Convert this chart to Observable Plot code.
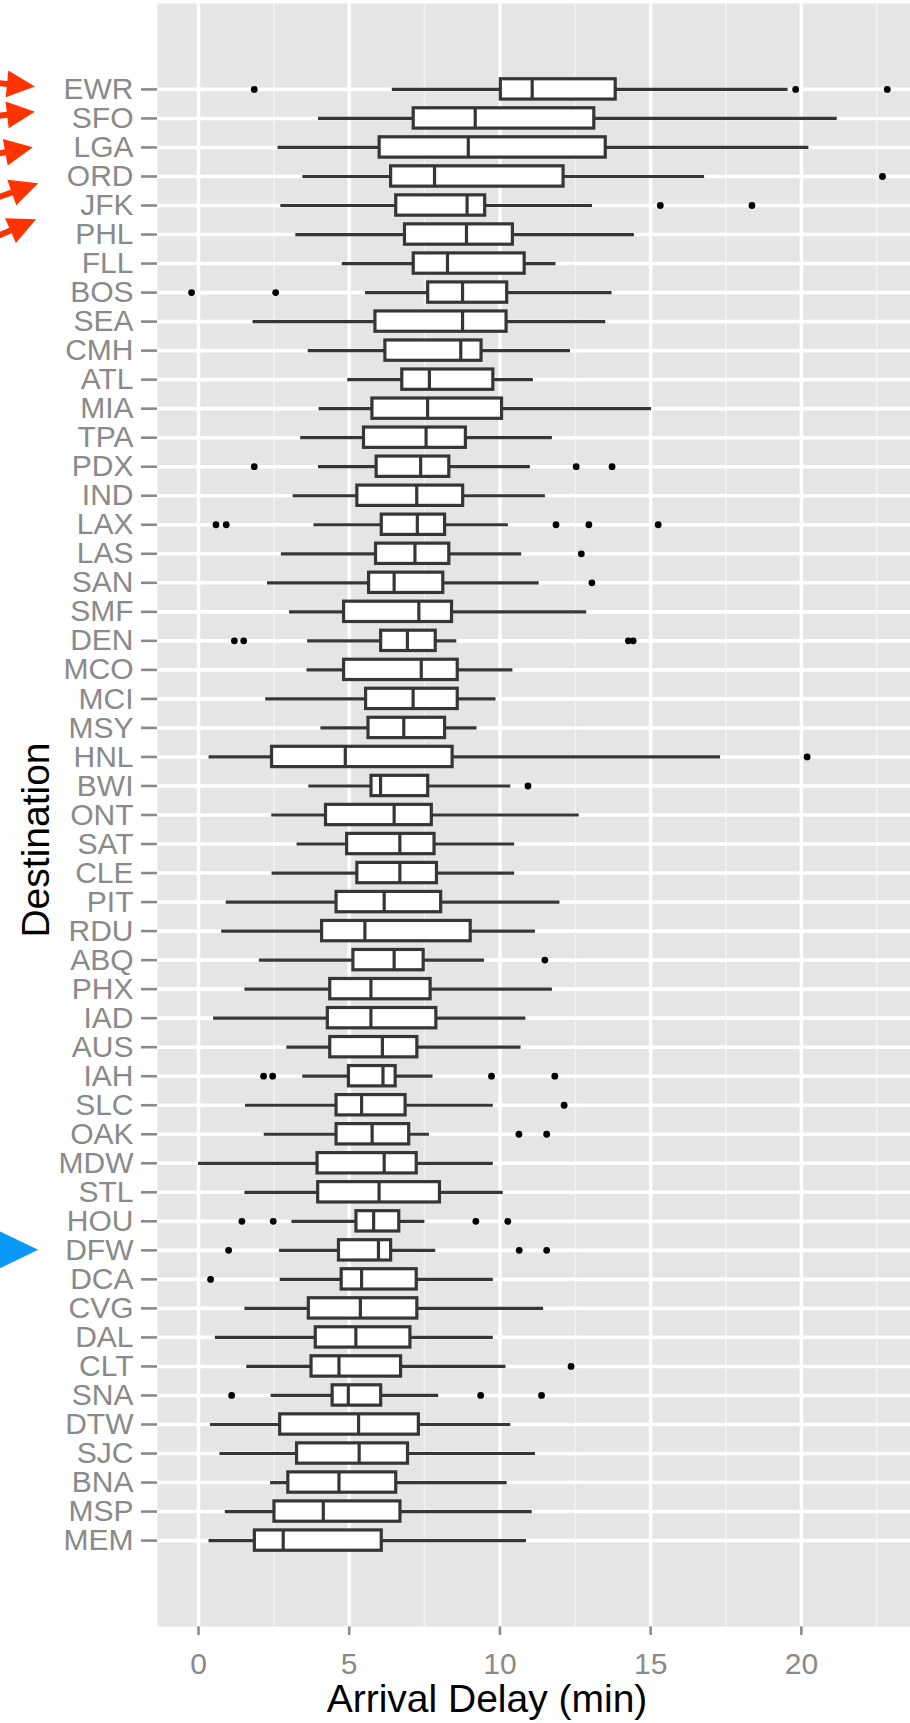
<!DOCTYPE html>
<html><head><meta charset="utf-8">
<script src="https://cdn.jsdelivr.net/npm/d3@7"></script>
<script src="https://cdn.jsdelivr.net/npm/@observablehq/plot@0.6"></script>
<style>
html,body{margin:0;padding:0;background:#fff;}
#chart svg{display:block;}
svg g[aria-label="y-axis tick"] path, svg g[aria-label="x-axis tick"] path,
svg g[aria-label="y-axis"] .tick line, svg g[aria-label="x-axis"] .tick line { stroke-width: 2.6px; }
</style></head>
<body><div id="chart"></div>
<script>
// Categories, top to bottom
const destinations = ["EWR","SFO","LGA","ORD","JFK","PHL","FLL","BOS","SEA","CMH","ATL","MIA","TPA","PDX","IND","LAX","LAS","SAN","SMF","DEN","MCO","MCI","MSY","HNL","BWI","ONT","SAT","CLE","PIT","RDU","ABQ","PHX","IAD","AUS","IAH","SLC","OAK","MDW","STL","HOU","DFW","DCA","CVG","DAL","CLT","SNA","DTW","SJC","BNA","MSP","MEM"];
const whiskerLow  = [6.43,3.98,2.64,3.46,2.73,3.23,4.77,5.54,1.81,3.64,4.95,4.00,3.39,3.98,3.14,3.83,2.75,2.29,3.02,3.62,3.60,2.23,4.06,0.35,3.66,2.43,3.27,2.44,0.92,0.77,2.02,1.54,0.50,2.93,3.46,1.56,2.18,0.00,1.54,3.10,2.69,2.71,1.54,0.56,1.60,2.41,0.40,0.71,2.39,0.89,0.35];
const quartile1   = [10.03,7.14,6.01,6.39,6.56,6.85,7.14,7.62,5.87,6.20,6.76,5.77,5.49,5.91,5.27,6.08,5.89,5.66,4.83,6.06,4.83,5.56,5.64,2.44,5.74,4.23,4.93,5.27,4.58,4.10,5.14,4.37,4.29,4.37,4.99,4.58,4.58,3.95,3.97,5.24,4.66,4.75,3.66,3.89,3.75,4.45,2.71,3.27,2.98,2.52,1.87];
const medians     = [11.07,9.18,8.95,7.83,8.91,8.89,8.26,8.76,8.76,8.70,7.66,7.60,7.55,7.37,7.24,7.26,7.18,6.49,7.31,6.93,7.39,7.12,6.81,4.87,6.04,6.49,6.68,6.68,6.16,5.52,6.49,5.72,5.72,6.10,6.12,5.41,5.76,6.16,5.99,5.81,5.97,5.41,5.37,5.22,4.66,4.97,5.31,5.33,4.66,4.14,2.81];
const quartile3   = [13.84,13.13,13.51,12.11,9.51,10.43,10.82,10.24,10.22,9.39,9.78,10.07,8.87,8.32,8.78,8.18,8.32,8.12,8.41,7.87,8.60,8.60,8.18,8.43,7.62,7.74,7.83,7.91,8.05,9.03,7.47,7.70,7.89,7.26,6.54,6.87,6.99,7.24,8.01,6.66,6.39,7.24,7.26,7.03,6.72,6.06,7.31,6.95,6.56,6.70,6.08];
const whiskerHigh = [19.56,21.19,20.25,16.79,13.07,14.46,11.86,13.72,13.51,12.34,11.11,15.03,11.74,11.01,11.51,10.28,10.72,11.30,12.88,8.57,10.43,9.87,9.24,17.32,10.36,12.63,10.49,10.49,11.99,11.18,9.49,11.74,10.86,10.70,7.78,9.78,7.66,9.78,10.11,7.51,7.87,9.78,11.45,9.78,10.20,7.97,10.36,11.18,10.24,11.07,10.88];

// Outliers
const outlierDest  = ["EWR","EWR","EWR","ORD","JFK","JFK","BOS","BOS","PDX","PDX","PDX","LAX","LAX","LAX","LAX","LAX","LAS","SAN","DEN","DEN","DEN","DEN","HNL","BWI","ABQ","IAH","IAH","IAH","IAH","SLC","OAK","OAK","HOU","HOU","HOU","HOU","DFW","DFW","DFW","DCA","CLT","SNA","SNA","SNA"];
const outlierValue = [1.85,19.81,22.85,22.69,15.32,18.36,-0.23,2.56,1.85,12.53,13.72,0.58,0.92,11.86,12.95,15.25,12.70,13.05,1.19,1.50,14.26,14.42,20.19,10.93,11.49,2.16,2.46,9.72,11.82,12.13,10.63,11.55,1.44,2.48,9.20,10.26,1.00,10.64,11.55,0.40,12.36,1.10,9.36,11.38];

// Axis ticks
const xTicks = [0, 5, 10, 15, 20];
const xMinorTicks = [2.5, 7.5, 12.5, 17.5, 22.5];

// Annotations
const arrowDest = ["EWR","SFO","LGA","ORD","JFK"];
const markerDest = ["DFW"];

const boxes = destinations.map((d, i) => ({dest: d, lo: whiskerLow[i], q1: quartile1[i], med: medians[i], q3: quartile3[i], hi: whiskerHigh[i]}));
const outliers = outlierDest.map((d, i) => ({dest: d, value: outlierValue[i]}));

const FONT = '"Liberation Sans", Arial, Helvetica, sans-serif';
const BOX = "#363636";

const chart = Plot.plot({
  width: 910,
  height: 1723,
  marginLeft: 157,
  marginRight: 0,
  marginTop: 3,
  marginBottom: 97,
  style: {fontFamily: FONT, fontSize: "30px", color: "#8A8A8A", background: "white", overflow: "visible"},
  x: {domain: [-1.36, 23.62], ticks: xTicks, tickSize: 9, tickPadding: 17, label: null},
  y: {type: "band", domain: destinations, paddingInner: 0.3, paddingOuter: 2.61, align: 0.5, round: false, tickSize: 16, tickPadding: 8, label: null},
  marks: [
    Plot.frame({fill: "#E5E5E5", stroke: "none"}),
    Plot.ruleX(xMinorTicks, {stroke: "#F2F2F2", strokeWidth: 1.7}),
    Plot.ruleX(xTicks, {stroke: "#FFFFFF", strokeWidth: 3.5}),
    Plot.ruleY(destinations, {stroke: "#FFFFFF", strokeWidth: 3.6}),
    Plot.ruleY(boxes, {y: "dest", x1: "lo", x2: "hi", stroke: BOX, strokeWidth: 3.2}),
    Plot.barX(boxes, {y: "dest", x1: "q1", x2: "q3", fill: "white", stroke: BOX, strokeWidth: 3.2}),
    Plot.tickX(boxes, {y: "dest", x: "med", stroke: BOX, strokeWidth: 3.2}),
    Plot.dot(outliers, {y: "dest", x: "value", r: 3.4, fill: "black", stroke: "none"})
  ]
});
document.getElementById("chart").appendChild(chart);

// Overlays positioned through Plot's own scales
const xs = chart.scale("x"), ys = chart.scale("y");
const yc = d => ys.apply(d) + ys.bandwidth / 2;
const svg = d3.select(chart);

// red arrow geometry (tip x in data units, pixel nudge, angle in degrees)
const arrowStyle = [
  {tip: -5.41, dy: -2.3, angle: 5.5},
  {tip: -5.41, dy: -6.3, angle: -6.5},
  {tip: -5.48, dy: 0.3, angle: -10.4},
  {tip: -5.30, dy: 7.3, angle: -19.3},
  {tip: -5.37, dy: 14.3, angle: -23.6}
];
arrowDest.forEach((d, i) => {
  const s = arrowStyle[i];
  const tx = xs.apply(s.tip), ty = yc(d) + s.dy;
  const a = s.angle * Math.PI / 180;
  const ux = Math.cos(a), uy = Math.sin(a), nx = -uy, ny = ux;
  const H = 28, W = 13.5, sw = 3, L = 70;
  const bx = tx - H * ux, by = ty - H * uy;
  const ex = bx - L * ux, ey = by - L * uy;
  const pts = [[tx, ty], [bx + W * nx, by + W * ny], [bx + sw * nx, by + sw * ny], [ex + sw * nx, ey + sw * ny],
               [ex - sw * nx, ey - sw * ny], [bx - sw * nx, by - sw * ny], [bx - W * nx, by - W * ny]];
  svg.append("path").attr("d", "M" + pts.map(p => p.join(",")).join("L") + "Z").attr("fill", "#FF3300");
});
markerDest.forEach(d => {
  const tx = xs.apply(-5.3), ty = yc(d);
  svg.append("path")
    .attr("d", `M${tx},${ty}L${tx - 40},${ty - 19.3}L${tx - 40},${ty + 19.3}Z`)
    .attr("fill", "#0B99F7");
});

// axis titles
svg.append("text").text("Arrival Delay (min)")
  .attr("x", 487).attr("y", 1712).attr("text-anchor", "middle")
  .attr("font-family", FONT).attr("font-size", 39).attr("fill", "black");
svg.append("text").text("Destination")
  .attr("transform", "translate(49,840) rotate(-90)").attr("text-anchor", "middle")
  .attr("font-family", FONT).attr("font-size", 39).attr("fill", "black");
</script>
</body></html>
